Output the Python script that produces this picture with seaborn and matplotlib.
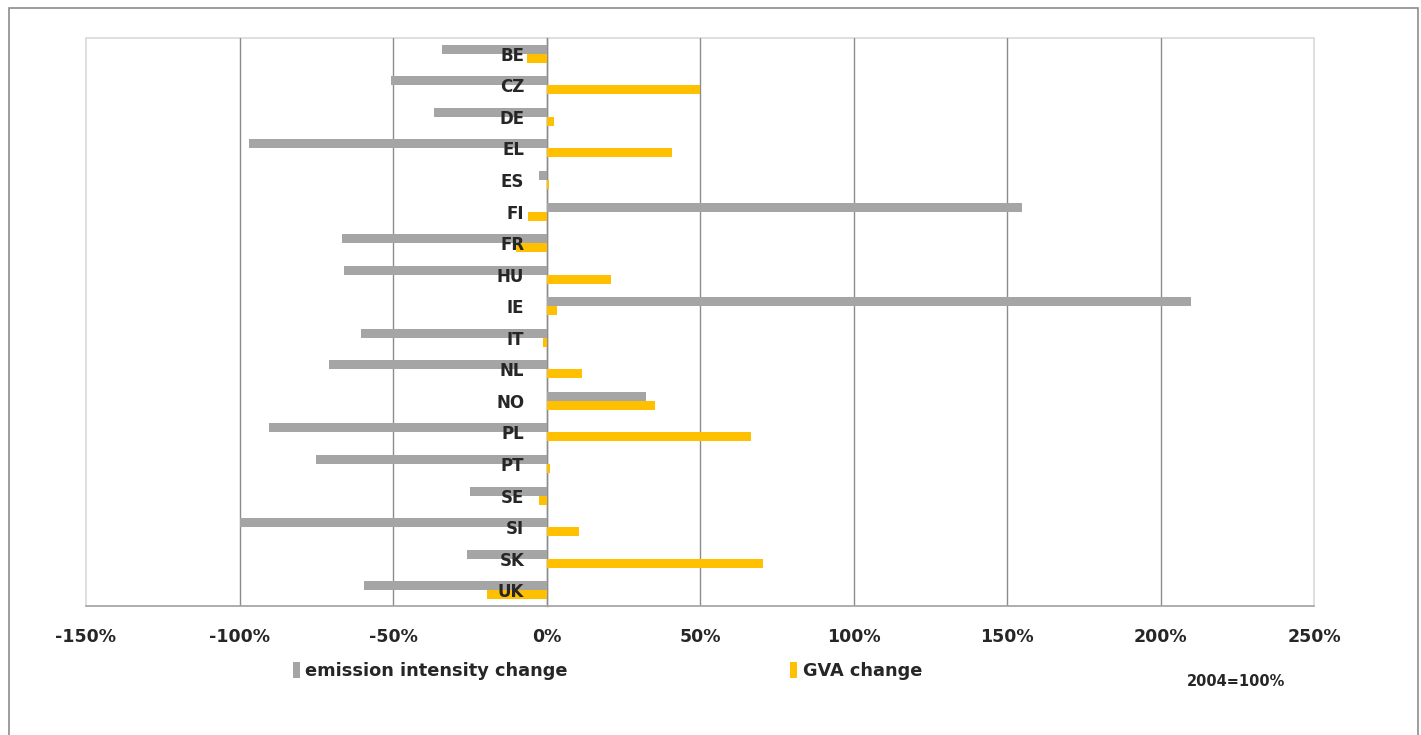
import numpy as np
import pandas as pd
import matplotlib
matplotlib.use("Agg")
import matplotlib.pyplot as plt
from matplotlib.patches import Rectangle, Patch
import seaborn as sns

countries = ["BE", "CZ", "DE", "EL", "ES", "FI", "FR", "HU", "IE",
             "IT", "NL", "NO", "PL", "PT", "SE", "SI", "SK", "UK"]
emission_intensity_change = [-34, -50.5, -36.5, -97, -2.6, 155, -66.5, -66, 210,
                             -60.5, -71, 32.5, -90.5, -75, -25, -100, -26, -59.5]
gva_change = [-6.5, 50, 2.5, 41, 0.7, -6, -10, 21, 3.5,
              -1, 11.5, 35.5, 66.5, 1.3, -2.6, 10.5, 70.5, -19.5]
series_names = ["emission intensity change", "GVA change"]
x_ticks = [-150, -100, -50, 0, 50, 100, 150, 200, 250]
x_tick_labels = ["-150%", "-100%", "-50%", "0%", "50%", "100%", "150%", "200%", "250%"]
note_text = "2004=100%"

GREY = "#A5A5A5"
GOLD = "#FFC000"
GRID = "#8C8C8C"
TEXT = "#262626"

df = pd.DataFrame({
    "country": countries * 2,
    "value": emission_intensity_change + gva_change,
    "series": [series_names[0]] * len(countries) + [series_names[1]] * len(countries),
})

sns.set_theme(style="white")
plt.rcParams["font.family"] = ["DejaVu Sans"]
plt.rcParams["axes.unicode_minus"] = False

fig = plt.figure(figsize=(14.21, 7.35), dpi=100)
ax = fig.add_axes([86 / 1421, 1 - 606 / 735, (1314 - 86) / 1421, (606 - 38) / 735])

sns.barplot(data=df, x="value", y="country", hue="series", orient="h",
            palette=[GREY, GOLD], width=0.57, gap=0, saturation=1,
            errorbar=None, legend=False, linewidth=0, ax=ax)

ax.set_xlim(-150, 250)
ax.set_ylim(len(countries) - 0.5, -0.5)
ax.set_xticks(x_ticks)
ax.set_xticklabels(x_tick_labels, fontsize=12.5, fontweight="bold", color=TEXT)
ax.set_xlabel("")
ax.set_ylabel("")

# vertical gridlines, hidden at the plot-area edges
ax.grid(axis="x", color=GRID, linewidth=1.0)
ax.grid(axis="y", visible=False)
gl = ax.get_xgridlines()
gl[0].set_visible(False)
gl[-1].set_visible(False)

# category axis sits on the zero line
ax.spines["left"].set_position(("data", 0))
ax.spines["left"].set_color(GRID)
ax.spines["left"].set_linewidth(1.0)
ax.spines["bottom"].set_color("#A6A6A6")
ax.spines["bottom"].set_linewidth(1.2)
ax.spines["top"].set_visible(False)
ax.spines["right"].set_visible(False)

ax.set_yticks(range(len(countries)))
ax.set_yticklabels(countries, fontsize=12, fontweight="bold", color=TEXT)
ax.set_yticks(np.arange(-0.5, len(countries), 1.0), minor=True)
ax.tick_params(axis="y", which="major", length=0, pad=16)
ax.tick_params(axis="y", which="minor", length=6, width=1, color=GRID, direction="out")
ax.tick_params(axis="x", which="major", length=5, width=1, color="#A6A6A6",
               direction="out", pad=11)

# gridlines behind bars, category labels above them
ax.xaxis.set_zorder(0.5)
ax.yaxis.set_zorder(3)
ax.spines["left"].set_zorder(0.6)

# light plot-area border
ax.add_patch(Rectangle((0, 0), 1, 1, transform=ax.transAxes, fill=False,
                       edgecolor="#D9D9D9", linewidth=1.2, zorder=0.4, clip_on=False))

handles = [Patch(facecolor=GREY, edgecolor="none"), Patch(facecolor=GOLD, edgecolor="none")]
fig.legend(handles, series_names, loc="center left",
           bbox_to_anchor=(293 / 1421, 1 - 671 / 735), ncol=2, frameon=False,
           prop={"weight": "bold", "size": 12.8},
           handlelength=0.4, handleheight=1.0, handletextpad=0.3,
           columnspacing=12.5, borderaxespad=0, borderpad=0)
for t in fig.legends[0].get_texts():
    t.set_color(TEXT)

fig.text(1236 / 1421, 1 - 682 / 735, note_text, ha="center", va="center",
         fontsize=10.5, fontweight="bold", color=TEXT)

# outer chart border
fig.add_artist(Rectangle((9 / 1421, -0.02), (1418 - 9) / 1421, (735 - 8) / 735 + 0.02,
                         transform=fig.transFigure, fill=False,
                         edgecolor="#8C8C8C", linewidth=1.2))

fig.savefig("out.png", dpi=100)
